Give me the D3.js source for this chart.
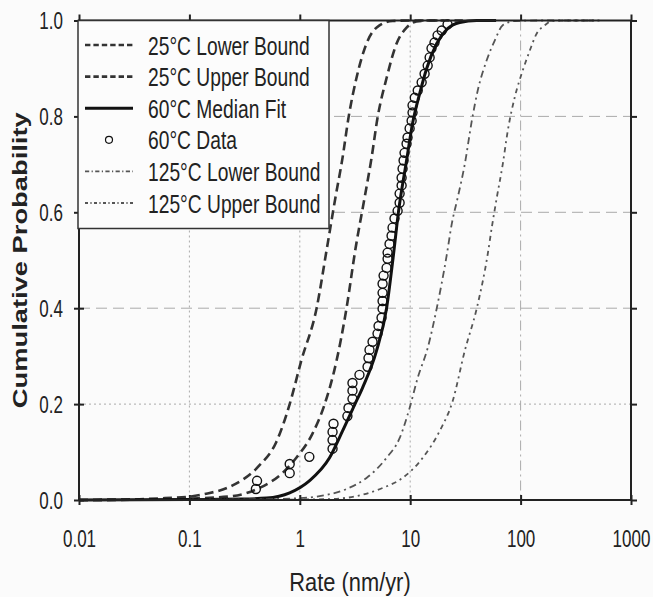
<!DOCTYPE html>
<html>
<head>
<meta charset="utf-8">
<script src="https://cdn.jsdelivr.net/npm/d3@7"></script>
<style>
  body { margin: 0; background: #fbfbfb; }
  svg { display: block; font-family: "Liberation Sans", Arial, sans-serif; }
</style>
</head>
<body>
<svg id="chart" width="653" height="597"></svg>
<script>
// tick values / labels
const xTicks = [0.01, 0.1, 1, 10, 100, 1000];
const xTickLabels = ["0.01", "0.1", "1", "10", "100", "1000"];
const yTicks = [0, 0.2, 0.4, 0.6, 0.8, 1.0];
const yTickLabels = ["0.0", "0.2", "0.4", "0.6", "0.8", "1.0"];

// curves: [rate (nm/yr), cumulative probability]
const lower25 = [[0.01,0.0],[0.03,0.001],[0.06,0.004],[0.1,0.007],[0.142,0.013],[0.244,0.03],[0.43,0.072],[0.61,0.12],[0.81,0.2],[1.03,0.29],[1.42,0.4],[1.76,0.525],[2.1,0.63],[2.44,0.714],[2.76,0.797],[3.26,0.88],[4.02,0.952],[5.27,0.99],[6.92,0.999],[10,1.0],[20,1.0]];
const upper25 = [[0.01,0.0],[0.05,0.001],[0.1,0.003],[0.244,0.008],[0.43,0.025],[0.695,0.056],[0.93,0.088],[1.3,0.138],[1.67,0.198],[2.15,0.29],[2.65,0.4],[3.2,0.525],[3.86,0.63],[4.47,0.714],[5.06,0.797],[6.11,0.88],[7.53,0.952],[9.27,0.985],[11.4,0.998],[15,1.0],[30,1.0]];
const median60 = [[0.01,0.0],[0.1,0.001],[0.3,0.002],[0.5,0.004],[0.81,0.015],[1.22,0.04],[1.86,0.088],[2.44,0.144],[3.13,0.198],[3.7,0.234],[4.95,0.311],[6.11,0.4],[7.0,0.505],[7.85,0.603],[9.27,0.708],[10.5,0.785],[12.2,0.848],[14.1,0.9],[17.4,0.952],[21.8,0.983],[28.1,0.996],[40,1.0],[60,1.0]];
const lower125 = [[0.01,0.0],[0.35,0.001],[1.0,0.004],[1.51,0.008],[2.65,0.023],[4.02,0.046],[6.11,0.088],[8.02,0.129],[9.88,0.192],[11.7,0.255],[14.4,0.317],[17.4,0.4],[21.4,0.51],[23.8,0.576],[26.9,0.63],[31.2,0.7],[36.1,0.79],[40.9,0.854],[49.3,0.917],[58.3,0.958],[68.9,0.99],[90,0.999],[150,1.0],[500,1.0]];
const upper125 = [[0.01,0.0],[1.0,0.001],[1.86,0.002],[3.26,0.008],[5.61,0.025],[8.53,0.046],[13.0,0.088],[18.5,0.144],[24.3,0.207],[31.2,0.311],[40.1,0.4],[50.4,0.513],[54.8,0.568],[60.8,0.63],[68.9,0.7],[76.5,0.77],[88.5,0.84],[104.7,0.896],[121,0.937],[140,0.973],[166,0.99],[192,0.999],[250,1.0],[550,1.0]];

// 60C measured points
const data60Rate = [0.40,0.41,0.81,0.81,1.22,1.98,1.98,1.98,2.02,2.70,2.76,3.00,3.00,3.00,3.47,4.11,4.19,4.28,4.56,5.06,5.17,5.50,5.62,5.62,5.62,5.62,5.74,6.11,6.24,6.24,6.50,6.78,6.92,7.21,7.69,8.02,8.02,8.36,8.36,8.53,8.71,8.89,9.27,9.46,9.88,10.3,10.5,10.5,11.0,11.7,12.7,13.5,14.4,15.0,15.6,16.6,17.7,19.3,21.8];
const data60Prob = [0.023,0.040,0.056,0.075,0.090,0.107,0.125,0.142,0.159,0.175,0.192,0.211,0.228,0.244,0.261,0.278,0.296,0.313,0.330,0.347,0.363,0.380,0.399,0.415,0.432,0.451,0.468,0.484,0.503,0.516,0.534,0.551,0.568,0.587,0.603,0.620,0.639,0.656,0.672,0.691,0.708,0.724,0.743,0.756,0.775,0.791,0.808,0.823,0.839,0.854,0.871,0.889,0.906,0.923,0.942,0.954,0.969,0.979,0.992];

const legendLabels = ["25°C Lower Bound", "25°C Upper Bound", "60°C Median Fit", "60°C Data", "125°C Lower Bound", "125°C Upper Bound"];

const svg = d3.select('#chart');
const plotLeft = 79, plotRight = 631, plotTop = 20.5, plotBottom = 500;
const squeeze = 0.74; // original text is set in a condensed face

const x = d3.scaleLog().domain([0.01, 1000]).range([plotLeft, plotRight]);
const y = d3.scaleLinear().domain([0, 1]).range([plotBottom, plotTop]);

// styles for each series (same order as legend)
const lineStyles = [
    { data: lower25, stroke: '#333', width: 2.6, dash: '9,5' },
    { data: upper25, stroke: '#333', width: 2.6, dash: '9,5' },
    { data: median60, stroke: '#111', width: 3, dash: null },
    null,
    { data: lower125, stroke: '#555', width: 1.8, dash: '7,4,2,4' },
    { data: upper125, stroke: '#555', width: 1.8, dash: '5,4,2,4' }
];

// grid lines
const grid = svg.append('g').attr('stroke', '#aaa').attr('stroke-width', 1).attr('fill', 'none');
grid.selectAll('.hg')
    .data([0.2, 0.4, 0.6, 0.8])
    .join('line')
    .attr('x1', plotLeft).attr('x2', plotRight)
    .attr('y1', d => y(d)).attr('y2', d => y(d))
    .attr('stroke-dasharray', d => d === 0.2 ? '2,3' : '11,6');
grid.selectAll('.vg')
    .data([0.1, 1, 10, 100])
    .join('line')
    .attr('x1', d => x(d)).attr('x2', d => x(d))
    .attr('y1', plotTop).attr('y2', plotBottom)
    .attr('stroke-dasharray', d => d === 100 ? '10,4,2,4' : '2,3');

// curves
const line = d3.line()
    .x(d => x(d[0]))
    .y(d => y(d[1]))
    .curve(d3.curveMonotoneX);

lineStyles.forEach(s => {
    if (!s) return;
    svg.append('path')
        .datum(s.data)
        .attr('d', line)
        .attr('fill', 'none')
        .attr('stroke', s.stroke)
        .attr('stroke-width', s.width)
        .attr('stroke-dasharray', s.dash);
});

// data points
svg.append('g').selectAll('circle')
    .data(data60Rate.map((r, i) => [r, data60Prob[i]]))
    .join('circle')
    .attr('cx', d => x(d[0]))
    .attr('cy', d => y(d[1]))
    .attr('r', 4.5)
    .attr('fill', 'none')
    .attr('stroke', '#111')
    .attr('stroke-width', 1.4);

// frame
svg.append('rect')
    .attr('x', plotLeft).attr('y', plotTop)
    .attr('width', plotRight - plotLeft).attr('height', plotBottom - plotTop)
    .attr('fill', 'none').attr('stroke', '#222').attr('stroke-width', 2);

// axes
const xAxis = svg.append('g')
    .attr('transform', `translate(0,${plotBottom})`)
    .call(d3.axisBottom(x).tickValues(xTicks).tickFormat((d, i) => xTickLabels[i]).tickSize(5));
const xAxisIn = svg.append('g')
    .attr('transform', `translate(0,${plotBottom})`)
    .call(d3.axisBottom(x).tickValues(xTicks).tickFormat('').tickSize(-5));
const xAxisTop = svg.append('g')
    .attr('transform', `translate(0,${plotTop})`)
    .call(d3.axisTop(x).tickValues(xTicks).tickFormat('').tickSize(6));

const yAxis = svg.append('g')
    .attr('transform', `translate(${plotLeft},0)`)
    .call(d3.axisLeft(y).tickValues(yTicks).tickFormat((d, i) => yTickLabels[i]).tickSize(5));
const yAxisIn = svg.append('g')
    .attr('transform', `translate(${plotLeft},0)`)
    .call(d3.axisLeft(y).tickValues(yTicks).tickFormat('').tickSize(-5));
const yAxisRight = svg.append('g')
    .attr('transform', `translate(${plotRight},0)`)
    .call(d3.axisRight(y).tickValues(yTicks).tickFormat('').tickSize(6));

[xAxis, xAxisIn, xAxisTop, yAxis, yAxisIn, yAxisRight].forEach(a => {
    a.select('.domain').remove();
    a.selectAll('.tick line').attr('stroke', '#222').attr('stroke-width', 2);
});

xAxis.selectAll('text')
    .attr('y', 47).attr('dy', 0)
    .attr('transform', `scale(${squeeze},1)`)
    .attr('font-size', 23).attr('fill', '#222')
    .style('font-family', '"Liberation Sans", Arial, sans-serif');
yAxis.selectAll('text')
    .attr('x', -16 / squeeze).attr('dy', '0.36em')
    .attr('transform', `scale(${squeeze},1)`)
    .attr('font-size', 23).attr('fill', '#222')
    .style('font-family', '"Liberation Sans", Arial, sans-serif');

// axis titles
svg.append('text')
    .attr('transform', `translate(350,591) scale(0.84,1)`)
    .attr('text-anchor', 'middle')
    .attr('font-size', 26).attr('fill', '#222')
    .text('Rate (nm/yr)');

svg.append('text')
    .attr('transform', `translate(27,${(plotTop + plotBottom) / 2}) rotate(-90)`)
    .attr('text-anchor', 'middle')
    .attr('font-size', 21).attr('font-weight', 'bold').attr('fill', '#222')
    .attr('textLength', 296).attr('lengthAdjust', 'spacingAndGlyphs')
    .text('Cumulative Probability');

// legend
const legend = svg.append('g');
legend.append('rect')
    .attr('x', 78).attr('y', plotTop)
    .attr('width', 251).attr('height', 208)
    .attr('fill', '#fcfcfc').attr('stroke', '#333').attr('stroke-width', 1.5);

const rowY = d3.scaleLinear().domain([0, 5]).range([45, 203]);
legendLabels.forEach((lab, i) => {
    const cy = rowY(i);
    const s = lineStyles[i];
    if (s) {
        legend.append('line')
            .attr('x1', 85).attr('x2', 133)
            .attr('y1', cy).attr('y2', cy)
            .attr('stroke', s.stroke)
            .attr('stroke-width', s.width)
            .attr('stroke-dasharray', s.dash ? s.dash.split(',').map(v => v * 0.6).join(',') : null);
    } else {
        legend.append('circle')
            .attr('cx', 109).attr('cy', cy).attr('r', 3.5)
            .attr('fill', 'none').attr('stroke', '#111').attr('stroke-width', 1.2);
    }
    legend.append('text')
        .attr('transform', `translate(148,${cy + 9.5}) scale(${squeeze},1)`)
        .attr('font-size', 26).attr('fill', '#222')
        .text(lab);
});
</script>
</body>
</html>
